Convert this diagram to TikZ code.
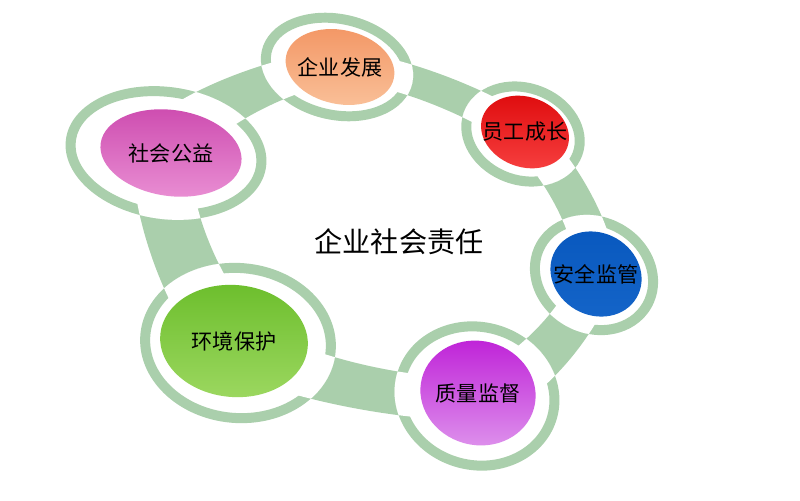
\documentclass[tikz,border=0pt]{standalone}
\usepackage{fontspec}
\newfontfamily\cjk{Noto Sans CJK SC}
\usetikzlibrary{calc}
\definecolor{bandgreen}{RGB}{170,207,172}
\definecolor{fzA}{RGB}{243,150,100}
\definecolor{fzB}{RGB}{249,190,150}
\definecolor{ygA}{RGB}{222,10,12}
\definecolor{ygB}{RGB}{245,60,60}
\definecolor{aqA}{RGB}{8,88,190}
\definecolor{aqB}{RGB}{20,100,200}
\definecolor{zlA}{RGB}{190,30,215}
\definecolor{zlB}{RGB}{220,140,235}
\definecolor{hjA}{RGB}{108,190,44}
\definecolor{hjB}{RGB}{155,215,95}
\definecolor{sgA}{RGB}{205,75,175}
\definecolor{sgB}{RGB}{232,140,210}

\begin{document}
\begin{tikzpicture}
[%%%%%%%%%%%%%%%%%%%%%%%%%%%%%%
x=0.025cm,y=0.025cm,
band/.style={fill=bandgreen,even odd rule},
bandline/.style={insert path={
  plot[smooth cycle] coordinates {(sg-o) (fz-o) (yg-o) (aq-o) (zl-o) (hj-o)}
  plot[smooth cycle] coordinates {(sg-i) (fz-i) (yg-i) (aq-i) (zl-i) (hj-i)}}},
ring/.style={fill=bandgreen,even odd rule},
tag/.style={font=\cjk\fontsize{15}{15}\selectfont,inner sep=0pt},
]%%%%%%%%%%%%%%%%%%%%%%%%%%%%%%
\useasboundingbox (0,0) rectangle (800,-500);
\coordinate (ctr) at (389,-245);
\coordinate (sg) at (166,-153);
\coordinate (fz) at (337,-67);
\coordinate (yg) at (523,-134);
\coordinate (aq) at (594,-275);
\coordinate (zl) at (477,-396);
\coordinate (hj) at (238,-343);
\foreach \n/\k in {sg/0.13,fz/0.09,yg/0.10,aq/0.10,zl/0.14,hj/0.17}{
\coordinate (\n-o) at ($(ctr)!1+\k!(\n)$);
\coordinate (\n-i) at ($(ctr)!1-\k!(\n)$);
}
\fill[band,bandline];
\foreach \n/\rx/\ry/\a in {sg/101/66/-8,fz/77/53/-12,yg/63/51/-20,
  aq/66/58/-30,zl/83/74/-15,hj/98/80/-5}{
\fill[white] (\n) ellipse[x radius=\rx,y radius=\ry,rotate=\a];
\fill[ring] (\n) ellipse[x radius=\rx,y radius=\ry,rotate=\a]
  (\n) ellipse[x radius=\rx-10,y radius=\ry-10,rotate=\a];
\begin{scope}
\clip (\n) ellipse[x radius=\rx,y radius=\ry,rotate=\a];
\fill[white,even odd rule,bandline];
\end{scope}
}
\foreach \n/\x/\y/\rx/\ry/\a/\txt in {fz/340/-67/55/37/-12/企业发展,
  yg/525/-132/45/35/-20/员工成长,aq/596/-274/47/41/-30/安全监管,
  zl/478/-393/58/52/-15/质量监督,hj/234/-341/74/56/-5/环境保护,
  sg/171/-153/71/43/-8/社会公益}{
\shade[top color=\n A,bottom color=\n B] (\x,\y) ellipse[x radius=\rx,y radius=\ry,rotate=\a];
\node[tag] (\n-t) at (\x,\y) {\txt};
}
\node[font=\cjk\fontsize{20}{20}\selectfont,inner sep=0pt] (title) at (399,-242) {企业社会责任};
\end{tikzpicture}
\end{document}
